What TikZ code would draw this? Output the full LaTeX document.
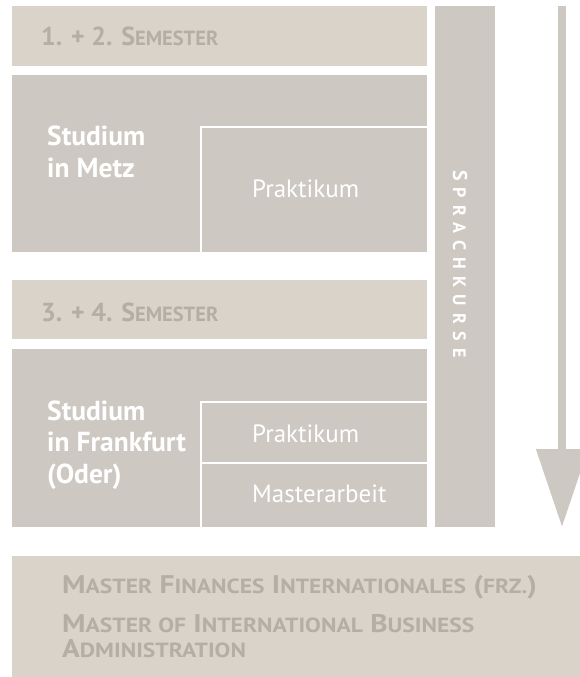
\documentclass[tikz,border=0pt]{standalone}
\usepackage{fontspec}
\setmainfont{PT Sans}
\usetikzlibrary{arrows.meta}
\definecolor{beige}{HTML}{DAD3C9}
\definecolor{grau}{HTML}{CDC8C2}
\definecolor{schrift}{HTML}{B6AEA5}
\newcommand{\kl}[1]{{\fontsize{20.5}{20.5}\selectfont #1}}
\newcommand{\kb}[1]{{\fontsize{20.5}{20.5}\selectfont #1}}
\newcommand{\klein}[1]{{\fontsize{18}{18}\selectfont #1}}
\tikzset{
  band/.style={fill=beige},
  feld/.style={fill=grau},
  linie/.style={draw=white, line width=2pt},
  titel/.style={anchor=base west, inner sep=0pt, text=schrift, font=\bfseries\fontsize{26}{26}\selectfont},
  abschluss/.style={anchor=base west, inner sep=0pt, text=schrift, font=\bfseries\fontsize{25.5}{25.5}\selectfont\addfontfeature{FakeStretch=1.15}},
  ort/.style={anchor=base west, inner sep=0pt, text=white, align=left, font=\bfseries\fontsize{27.5}{31.5}\selectfont},
  teil/.style={anchor=base west, inner sep=0pt, text=white, font=\fontsize{25}{25}\selectfont},
  pfeil/.style={draw=grau, line width=8pt, -{Triangle[width=50pt, length=78pt]}}
}

\begin{document}
\begin{tikzpicture}[x=1pt, y=-1pt]
			\useasboundingbox (0,0) rectangle (580,677);
			
			\fill[band] (12,6) rectangle (427,66);
			\fill[feld] (12,75) rectangle (427,252);
			\draw[linie] (201,252) |- (427,127);
			
			\fill[band] (12,280) rectangle (427,339);
			\fill[feld] (12,349) rectangle (427,527);
			\draw[linie] (201,527) |- (427,402);
			\draw[linie] (201,463) -- (427,463);
			
			\fill[feld] (435,6) rectangle (495,527);
			\fill[band] (12,556) rectangle (580,677);
			
			\node[titel] (S12) at (41,46) {1. + 2. S\kl{EMESTER}};
			\node[ort] (Metz) at (47,177) {Studium\\in Metz};
			\node[teil] (P1) at (252,197) {Praktikum};
			
			\node[titel] (S34) at (41,321) {3. + 4. S\kl{EMESTER}};
			\node[ort] (FfO) at (47,483) {Studium\\in Frankfurt\\(Oder)};
			\node[teil] (P2) at (252,442) {Praktikum};
			\node[teil] (MA) at (252,502) {Masterarbeit};
			
			\node[rotate=-90, anchor=base west, inner sep=0pt, text=white, font=\bfseries\fontsize{20}{20}\selectfont\addfontfeature{LetterSpace=40}] (SK) at (453,170) {S\kern7pt\klein{PRACHKURSE}};
			
			\node[abschluss] (MFI) at (62,593) {M\kb{ASTER} F\kb{INANCES} I\kb{NTERNATIONALES} (\kb{FRZ.})};
			\node[abschluss] (MIB) at (62,632) {M\kb{ASTER OF} I\kb{NTERNATIONAL} B\kb{USINESS}};
			\node[abschluss] (ADM) at (62,657) {A\kb{DMINISTRATION}};
			
			\coordinate (PA) at (562,6);
			\coordinate (PB) at (562,527);
			\draw[pfeil] (PA) -- (PB);
		\end{tikzpicture}
\end{document}
